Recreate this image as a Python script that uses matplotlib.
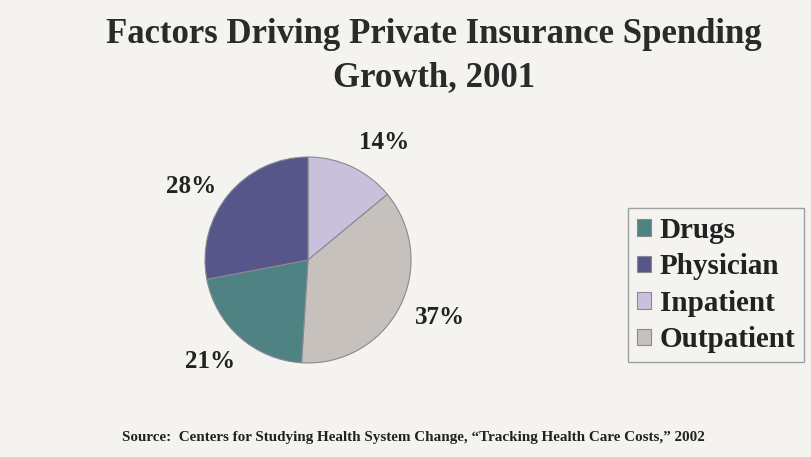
import matplotlib.pyplot as plt

categories = ["Inpatient", "Outpatient", "Drugs", "Physician"]
shares = [14, 37, 21, 28]
colors = ["#c9c0dc", "#c6c1bd", "#4f8383", "#56568a"]
legend_order = ["Drugs", "Physician", "Inpatient", "Outpatient"]

# label positions in pie-radius units, same order as categories
label_xy = [(0.74, 1.14), (1.28, -0.56), (-0.95, -0.99), (-1.13, 0.71)]

title = "Factors Driving Private Insurance Spending\nGrowth, 2001"
source = ("Source:  Centers for Studying Health System Change, "
          "\u201cTracking Health Care Costs,\u201d 2002")

plt.rcParams["font.family"] = ["Liberation Serif", "DejaVu Serif"]
plt.rcParams["font.weight"] = "bold"

bg = "#f4f3f0"
fig = plt.figure(figsize=(8.11, 4.57), dpi=100, facecolor=bg)

# pie centred near (308, 260) px, radius ~103 px
W, H = 811, 457
cx, cy, r = 308, 260, 103
ax = fig.add_axes([(cx - r) / W, (H - cy - r) / H, 2 * r / W, 2 * r / H])
ax.set_facecolor(bg)

wedges, _ = ax.pie(
    shares,
    colors=colors,
    startangle=90,
    counterclock=False,
    wedgeprops=dict(edgecolor="#8a8890", linewidth=0.8),
)
for v, (x, y) in zip(shares, label_xy):
    ax.text(x, y, f"{v}%", ha="center", va="center", fontsize=18,
            fontweight="bold", color="#222222")
ax.set_xlim(-1, 1)
ax.set_ylim(-1, 1)
ax.set_aspect("equal")
ax.axis("off")

fig.text(0.535, 0.96, title, ha="center", va="top", fontsize=25,
         fontweight="bold", color="#2a2a2a", linespacing=1.38)

handles = [wedges[categories.index(c)] for c in legend_order]
leg = fig.legend(handles, legend_order, loc="center",
                 bbox_to_anchor=(716 / W, (H - 285) / H),
                 fontsize=21, frameon=True, fancybox=False, handlelength=0.5,
                 handleheight=0.5, handletextpad=0.3, labelspacing=0.33,
                 borderpad=0.3, borderaxespad=0, edgecolor="#8a8a8a",
                 facecolor=bg)
leg.get_frame().set_linewidth(1.0)
for t in leg.get_texts():
    t.set_color("#222222")

fig.text(0.51, (H - 437) / H, source, ha="center", va="center", fontsize=10.9,
         fontweight="bold", color="#222222")

fig.savefig("out.png", dpi=100, facecolor=bg)
